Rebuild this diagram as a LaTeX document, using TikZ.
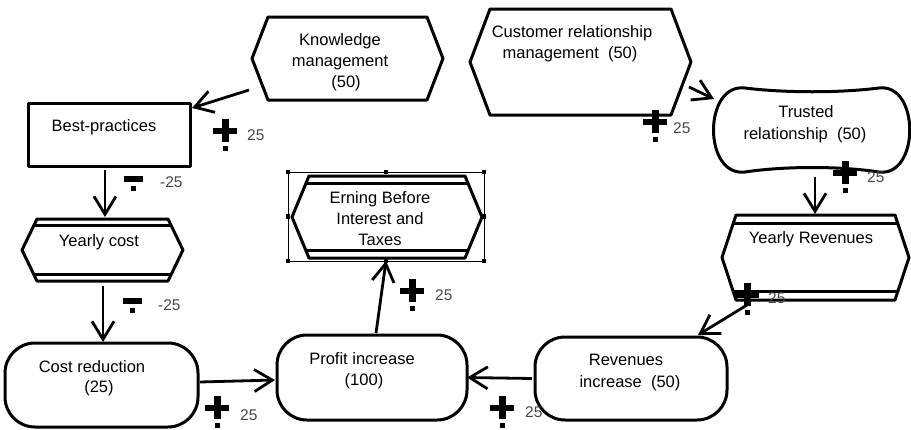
\documentclass[tikz,border=0pt]{standalone}
\usepackage{fontspec}
\setmainfont{Liberation Sans}
\usetikzlibrary{arrows.meta,calc}
\tikzset{
  area/.style 2 args={inner sep=0pt, outer sep=0pt, minimum width=#1, minimum height=#2},
  shapeline/.style={line width=3pt, line join=round},
  arr/.style={line width=2.8pt, -{Straight Barb[length=18pt,width=22pt,line width=2.8pt]}},
  lbl/.style={font=\fontsize{16.5}{20}\selectfont, anchor=base, inner sep=0pt},
  num/.style={font=\fontsize{15.5}{18}\selectfont, text=black!72, anchor=base west, inner sep=0pt},
  plusmark/.pic={\fill (-12,-3) rectangle (12,3); \fill (-3.5,-12) rectangle (3.5,11); \fill (-2.5,15) rectangle (2.5,20);},
  minusmark/.pic={\fill (-9.5,-3.5) rectangle (9.5,3); \fill (-2.5,6.5) rectangle (2.5,11.5);}
}
\newcommand\hexout[2]{%
  \draw[shapeline] (#1.west) -- ($(#1.north west)+(#2,0)$) -- ($(#1.north east)+(-#2,0)$) -- (#1.east)
    -- ($(#1.south east)+(-#2,0)$) -- ($(#1.south west)+(#2,0)$) -- cycle;}
\newcommand\dblline[3]{%
  \coordinate (#1-tl) at ($(#1.north west)+(#2,0)$);
  \coordinate (#1-tr) at ($(#1.north east)+(-#2,0)$);
  \coordinate (#1-bl) at ($(#1.south west)+(#2,0)$);
  \coordinate (#1-br) at ($(#1.south east)+(-#2,0)$);
  \draw[shapeline] ($(#1-tl)!#3!(#1.west)$) -- ($(#1-tr)!#3!(#1.east)$);
  \draw[shapeline] ($(#1-bl)!#3!(#1.west)$) -- ($(#1-br)!#3!(#1.east)$);}
\begin{document}
\begin{tikzpicture}[x=1pt,y=-1pt]
\fill[white] (0,0) rectangle (911,429);
\useasboundingbox (0,0) rectangle (911,429);

% ---------- shape nodes ----------
\node[area={191pt}{83pt}] (km) at (347.5,58.5) {};
\hexout{km}{16}
\node[area={221pt}{106pt}] (crm) at (580.5,62) {};
\hexout{crm}{20}
\node[area={162pt}{63pt}, draw, shapeline] (bp) at (109,134.5) {};
\node[area={161pt}{62pt}] (yc) at (102.5,250) {};
\hexout{yc}{15}
\dblline{yc}{15}{0.21}
\node[area={190pt}{82pt}] (ebit) at (387,217) {};
\hexout{ebit}{17}
\dblline{ebit}{17}{0.18}
\node[area={196pt}{89pt}, draw, line width=0.8pt] (sel) at (386,216.5) {};
\foreach \a in {north west,north,north east,west,east,south west,south,south east}
  \fill (sel.\a) +(-2.2,-2.2) rectangle +(2.2,2.2);
\node[area={187pt}{85pt}] (yr) at (815.5,257.5) {};
\hexout{yr}{14}
\dblline{yr}{14}{0.19}
\node[area={196pt}{84pt}] (tr) at (812,130) {};
\draw[shapeline] (745,88) .. controls (785,93) and (840,93) .. (879,88)
  .. controls (920,83) and (920,177) .. (879,172)
  .. controls (840,166) and (785,166) .. (745,172)
  .. controls (703,177) and (703,83) .. (745,88);
\node[area={193pt}{84pt}, draw, shapeline, rounded corners=30pt] (cr) at (101.5,385) {};
\node[area={190pt}{85pt}, draw, shapeline, rounded corners=30pt] (pi) at (372,377.5) {};
\node[area={192pt}{83pt}, draw, shapeline, rounded corners=30pt] (ri) at (631,378.5) {};

% ---------- texts ----------
\node[lbl] (km1) at (340,45) {Knowledge};
\node[lbl] (km2) at (340,66) {management};
\node[lbl] (km3) at (346,87) {(50)};
\node[lbl] (bp1) at (104,131) {Best-practices};
\node[lbl] (crm1) at (572,37) {Customer relationship};
\node[lbl] (crm2) at (570,58) {management\ \ (50)};
\node[lbl] (tr1) at (806,117) {Trusted};
\node[lbl] (tr2) at (805,139) {relationship\ \ (50)};
\node[lbl] (yc1) at (99,246) {Yearly cost};
\node[lbl] (eb1) at (380,203) {Erning Before};
\node[lbl] (eb2) at (380,224) {Interest and};
\node[lbl] (eb3) at (380,245) {Taxes};
\node[lbl] (yr1) at (811,243) {Yearly Revenues};
\node[lbl] (cr1) at (92,372) {Cost reduction};
\node[lbl] (cr2) at (99,392) {(25)};
\node[lbl] (pi1) at (362,364) {Profit increase};
\node[lbl] (pi2) at (364,385) {(100)};
\node[lbl] (ri1) at (626,365) {Revenues};
\node[lbl] (ri2) at (630,387) {increase\ \ (50)};

% ---------- connectors ----------
\draw[arr] ($(km.south west)+(-3,-10)$) -- ($(bp.north east)+(2,5)$);
\draw[arr] ($(bp.south)+(-4,4)$) -- ($(yc.north)+(2.5,-2)$);
\draw[arr] ($(yc.south)+(0.5,5)$) -- ($(cr.north)+(1.5,-1)$);
\draw[arr] ($(cr.east)+(2,-3)$) -- ($(pi.west)+(-2,2.5)$);
\draw[arr] ($(pi.north)+(4,-2)$) -- (sel.south);
\draw[arr] ($(crm.south east)+(-2,-28)$) -- ($(tr.west)+(0,-31)$);
\draw[arr] ($(tr.south)+(3,5)$) -- ($(yr.north)+(-0.5,-1)$);
\draw[arr] ($(yr.south west)+(25,5)$) -- ($(ri.north east)+(-29,-2)$);
\draw[arr] ($(ri.west)+(-3,0)$) -- (pi.east);

% ---------- signs and values ----------
\pic at (225,131) {plusmark};
\node[num] (v1) at (247,140) {25};
\pic at (133.5,179) {minusmark};
\node[num] (v2) at (160,187) {-25};
\pic at (132.5,301) {minusmark};
\node[num] (v3) at (158,310) {-25};
\pic at (217,408) {plusmark};
\node[num] (v4) at (240,420) {25};
\pic at (412,291) {plusmark};
\node[num] (v5) at (435,300) {25};
\pic at (655,122) {plusmark};
\node[num] (v6) at (673,133) {25};
\pic at (845,173) {plusmark};
\node[num] (v7) at (867,182) {25};
\pic at (747,295) {plusmark};
\node[num] (v8) at (768,303) {25};
\pic at (502,408) {plusmark};
\node[num] (v9) at (525,417) {25};
\end{tikzpicture}
\end{document}
